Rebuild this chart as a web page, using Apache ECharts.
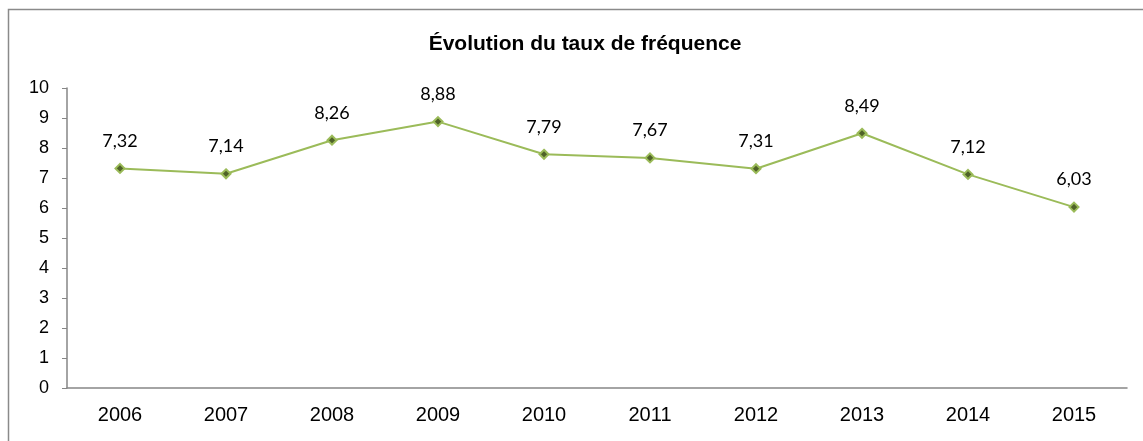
<!DOCTYPE html>
<html>
<head>
<meta charset="utf-8">
<script src="https://cdn.jsdelivr.net/npm/echarts@6/dist/echarts.min.js"></script>
<style>
  html, body { margin: 0; padding: 0; background: #fff; }
  #chart { width: 1143px; height: 441px; }
</style>
</head>
<body>
<div id="chart"></div>
<script>
// données
var years = ['2006', '2007', '2008', '2009', '2010', '2011', '2012', '2013', '2014', '2015'];
var tauxFrequence = [7.32, 7.14, 8.26, 8.88, 7.79, 7.67, 7.31, 8.49, 7.12, 6.03];
var titre = 'Évolution du taux de fréquence';

var chart = echarts.init(document.getElementById('chart'));
var option = {
    animation: false,
    backgroundColor: '#fff',
    title: {
        text: titre,
        left: 580,
        textAlign: 'center',
        top: 29,
        textStyle: {
            fontFamily: 'Liberation Sans, Arial, sans-serif',
            fontSize: 21,
            fontWeight: 'bold',
            color: '#000'
        }
    },
    // cadre extérieur (coupé à droite et en bas)
    graphic: [{
        type: 'rect',
        shape: { x: 8.5, y: 9.5, width: 1300, height: 600 },
        style: { fill: 'none', stroke: '#8a8a8a', lineWidth: 1.5 },
        silent: true
    }],
    grid: { left: 67, right: 16, top: 88, bottom: 53 },
    xAxis: {
        type: 'category',
        data: years,
        boundaryGap: true,
        axisLine: { lineStyle: { color: '#868686', width: 1.5 } },
        axisTick: { show: false },
        axisLabel: {
            margin: 17,
            fontFamily: 'Liberation Sans, Arial, sans-serif',
            fontSize: 20,
            color: '#000'
        }
    },
    yAxis: {
        type: 'value',
        min: 0,
        max: 10,
        interval: 1,
        splitLine: { show: false },
        axisLine: { show: true, lineStyle: { color: '#868686', width: 1.5 } },
        axisTick: { show: true, length: 5, lineStyle: { color: '#868686' } },
        axisLabel: {
            margin: 18,
            fontFamily: 'Liberation Sans, Arial, sans-serif',
            fontSize: 18,
            color: '#000'
        }
    },
    series: [{
        type: 'line',
        data: tauxFrequence,
        symbol: 'diamond',
        symbolSize: 9,
        lineStyle: { color: '#9bbb59', width: 2 },
        itemStyle: { color: '#4f6228', borderColor: '#9bbb59', borderWidth: 2 },
        label: {
            show: true,
            position: 'top',
            distance: 13,
            fontFamily: 'Lato, Open Sans, sans-serif',
            fontSize: 18,
            color: '#000',
            formatter: function (p) {
                return p.value.toFixed(2).replace('.', ',');
            }
        }
    }]
};
chart.setOption(option);
</script>
</body>
</html>
